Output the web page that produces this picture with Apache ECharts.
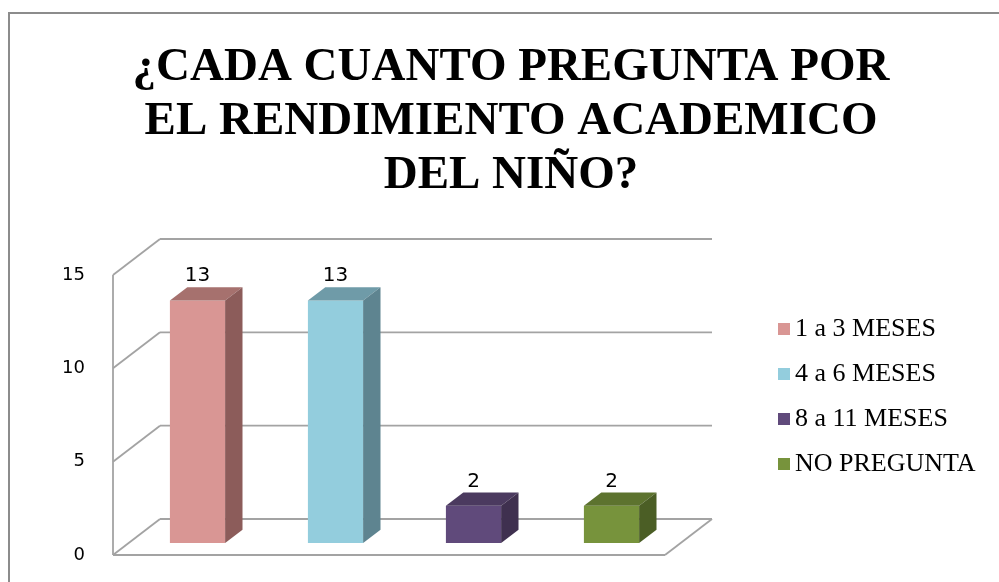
<!DOCTYPE html>
<html>
<head>
<meta charset="utf-8">
<script src="https://cdn.jsdelivr.net/npm/echarts@6/dist/echarts.min.js"></script>
<style>
  html, body { margin: 0; padding: 0; background: #fff; }
  #chart { width: 999px; height: 582px; }
</style>
</head>
<body>
<div id="chart"></div>
<script>
// datos del grafico
const categories = ['1 a 3 MESES', '4 a 6 MESES', '8 a 11 MESES', 'NO PREGUNTA']
const values = [13, 13, 2, 2]
const yTicks = [0, 5, 10, 15]

// colores: cara frontal, tapa, lateral
const frontColors = ['#D99694', '#93CDDD', '#604A7B', '#77933C']
const topColors = ['#A6716E', '#6F9BA8', '#4B3A5F', '#5D732F']
const sideColors = ['#8C5C5A', '#5E8490', '#3F304F', '#4B5E25']

// profundidad del efecto 3D (px)
const DX = 47
const DY = -36
const F0 = 0.33 // cara frontal de la barra
const F1 = 0.70 // cara trasera de la barra
const lineColor = '#a3a3a3'

let chart = echarts.init(document.getElementById('chart'))

function renderWalls (params, api) {
	const cs = params.coordSys
	const children = []
	const line = (x1, y1, x2, y2) => children.push({
		type: 'line',
		shape: { x1, y1, x2, y2 },
		style: { stroke: lineColor, lineWidth: 1.8 }
	})
	const y0 = api.coord([0, yTicks[0]])[1]
	const yMax = api.coord([0, yTicks[yTicks.length - 1]])[1]
	yTicks.forEach(v => {
		const y = api.coord([0, v])[1]
		line(cs.x, y, cs.x + DX, y + DY)
		line(cs.x + DX, y + DY, cs.x + cs.width + DX, y + DY)
	})
	// pared izquierda y piso
	line(cs.x, y0, cs.x, yMax)
	line(cs.x, y0, cs.x + cs.width, y0)
	line(cs.x + cs.width, y0, cs.x + cs.width + DX, y0 + DY)
	return { type: 'group', children }
}

function makeBarRender (i) {
	return function (params, api) {
		const cat = api.value(0)
		const val = api.value(1)
		const base = api.coord([cat, 0])
		const top = api.coord([cat, val])
		const w = api.size([1, 0])[0] * 0.4
		const x0 = base[0] - w / 2 + DX * F0
		const yb = base[1] + DY * F0
		const yt = top[1] + DY * F0
		const ddx = DX * (F1 - F0)
		const ddy = DY * (F1 - F0)
		return {
			type: 'group',
			children: [
				{
					type: 'rect',
					shape: { x: x0, y: yt, width: w, height: yb - yt },
					style: { fill: frontColors[i] }
				},
				{
					type: 'polygon',
					shape: { points: [[x0, yt], [x0 + w, yt], [x0 + w + ddx, yt + ddy], [x0 + ddx, yt + ddy]] },
					style: { fill: topColors[i] }
				},
				{
					type: 'polygon',
					shape: { points: [[x0 + w, yt], [x0 + w + ddx, yt + ddy], [x0 + w + ddx, yb + ddy], [x0 + w, yb]] },
					style: { fill: sideColors[i] }
				},
				{
					type: 'text',
					style: {
						text: String(val),
						x: x0 + w / 2,
						y: yt + ddy - 1,
						align: 'center',
						verticalAlign: 'bottom',
						fill: '#000',
						font: '20px "DejaVu Sans"'
					}
				}
			]
		}
	}
}

const series = [{
	name: 'walls',
	type: 'custom',
	silent: true,
	z: 1,
	renderItem: renderWalls,
	data: [[0, 0]]
}]
categories.forEach((name, i) => {
	series.push({
		name: name,
		type: 'custom',
		z: 2,
		itemStyle: { color: frontColors[i] },
		renderItem: makeBarRender(i),
		data: [[i, values[i]]]
	})
})

let option = {
	animation: false,
	backgroundColor: '#fff',
	title: {
		text: '¿CADA CUANTO PREGUNTA POR\nEL RENDIMIENTO ACADEMICO\nDEL NIÑO?',
		left: 511,
		textAlign: 'center',
		top: 41,
		padding: 0,
		textStyle: {
			fontFamily: '"Liberation Serif", "Times New Roman", serif',
			fontWeight: 'bold',
			fontSize: 47,
			lineHeight: 54,
			color: '#000'
		}
	},
	legend: {
		data: categories,
		orient: 'vertical',
		left: 778,
		top: 316,
		padding: 0,
		icon: 'rect',
		itemWidth: 12,
		itemHeight: 12,
		itemGap: 19,
		textStyle: {
			fontFamily: '"Liberation Serif", "Times New Roman", serif',
			fontSize: 26,
			color: '#000'
		}
	},
	grid: {
		left: 113,
		right: 334,
		top: 275,
		bottom: 27,
		containLabel: false
	},
	xAxis: {
		type: 'category',
		data: categories,
		axisLine: { show: false },
		axisTick: { show: false },
		axisLabel: { show: false },
		splitLine: { show: false }
	},
	yAxis: {
		type: 'value',
		min: yTicks[0],
		max: yTicks[yTicks.length - 1],
		interval: 5,
		axisLine: { show: false },
		axisTick: { show: false },
		splitLine: { show: false },
		axisLabel: {
			margin: 28,
			fontFamily: '"DejaVu Sans", Verdana, sans-serif',
			fontSize: 18,
			color: '#000'
		}
	},
	graphic: [{
		type: 'rect',
		shape: { x: 9, y: 13, width: 1000, height: 600 },
		style: { fill: 'none', stroke: '#8c8c8c', lineWidth: 2 },
		silent: true,
		z: 0
	}],
	series: series
}
chart.setOption(option)
window.addEventListener('resize', chart.resize)
</script>
</body>
</html>
